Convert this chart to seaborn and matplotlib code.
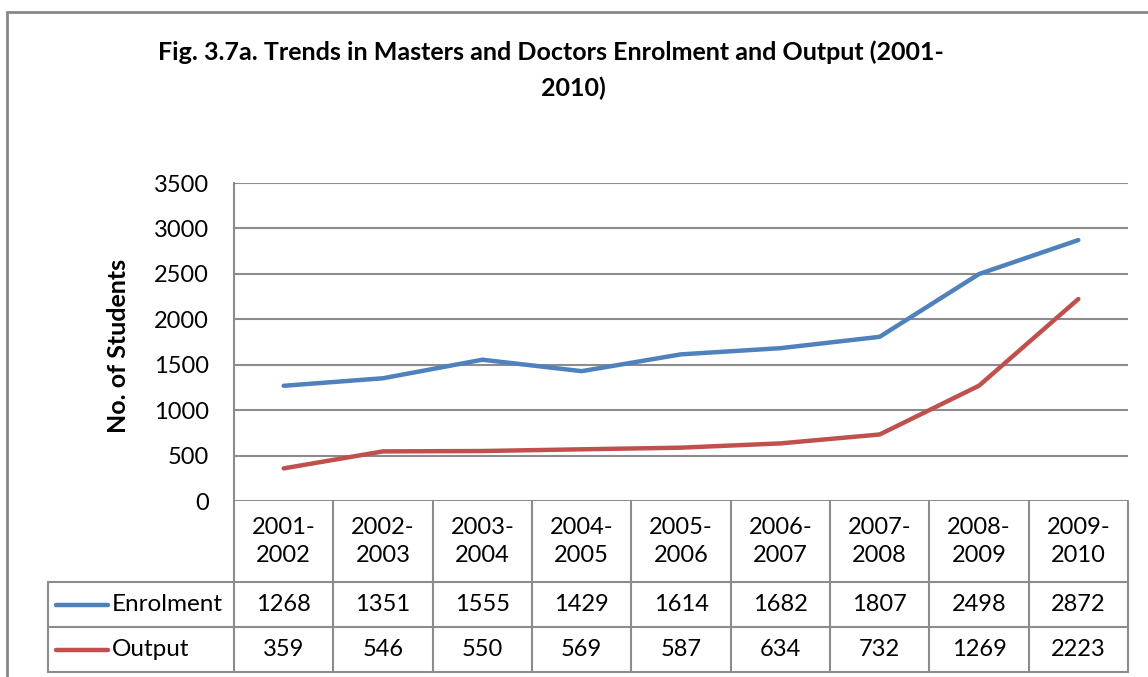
import matplotlib
matplotlib.use("Agg")
import matplotlib.pyplot as plt
import matplotlib.transforms as mtransforms
from matplotlib.lines import Line2D
from matplotlib.patches import Rectangle
import seaborn as sns
import pandas as pd

categories = ["2001-\n2002", "2002-\n2003", "2003-\n2004", "2004-\n2005", "2005-\n2006",
              "2006-\n2007", "2007-\n2008", "2008-\n2009", "2009-\n2010"]
enrolment = [1268, 1351, 1555, 1429, 1614, 1682, 1807, 2498, 2872]
output = [359, 546, 550, 569, 587, 634, 732, 1269, 2223]
series_names = ["Enrolment", "Output"]
y_ticks = [0, 500, 1000, 1500, 2000, 2500, 3000, 3500]

sns.set_theme(style="white")
FONT = ["Lato", "DejaVu Sans"]
plt.rcParams["font.family"] = FONT

W, H = 1148, 677
fig = plt.figure(figsize=(W / 100, H / 100), dpi=100)
fig.patch.set_facecolor("white")

def fx(px):
    return px / W

def fy(py):
    return 1 - py / H

ax_left, ax_right, ax_top, ax_bot = 234, 1128, 183, 501
ax = fig.add_axes([fx(ax_left), fy(ax_bot), fx(ax_right - ax_left), fy(ax_top) - fy(ax_bot)])

df = pd.DataFrame({
    "x": list(range(len(categories))) * 2,
    "value": enrolment + output,
    "series": [series_names[0]] * len(enrolment) + [series_names[1]] * len(output),
})
colors = {"Enrolment": "#4F81BD", "Output": "#C0504D"}
sns.lineplot(data=df, x="x", y="value", hue="series", palette=colors, linewidth=3.2,
             ax=ax, legend=False, solid_capstyle="round")

ax.set_xlim(-0.5, len(categories) - 0.5)
ax.set_ylim(0, 3500)
ax.set_yticks(y_ticks)
ax.set_yticklabels([str(t) for t in y_ticks], fontsize=17, color="black")
ax.set_xticks([])
ax.set_xlabel("")
ax.set_ylabel("")
ax.tick_params(axis="y", length=0, pad=18)
grid_c = "#8C8C8C"
ax.yaxis.grid(True, color=grid_c, linewidth=1.5)
for s in ["top", "right", "bottom"]:
    ax.spines[s].set_visible(False)
ax.spines["left"].set_color(grid_c)
ax.spines["left"].set_linewidth(1.5)

# data table below the axes
trans = mtransforms.blended_transform_factory(ax.transData, fig.transFigure)
row_hdr_bot, row1_bot, row2_bot = 582, 627, 672
leg_left = 48
n = len(categories)
lw = 1.5
for i in range(n + 1):
    fig.add_artist(Line2D([i - 0.5, i - 0.5], [fy(ax_bot), fy(row2_bot)], transform=trans,
                          color=grid_c, linewidth=lw))
for yy in [row_hdr_bot, row1_bot, row2_bot]:
    fig.add_artist(Line2D([fx(leg_left), fx(ax_right)], [fy(yy), fy(yy)],
                          transform=fig.transFigure, color=grid_c, linewidth=lw))
fig.add_artist(Line2D([fx(leg_left), fx(leg_left)], [fy(row_hdr_bot), fy(row2_bot)],
                      transform=fig.transFigure, color=grid_c, linewidth=lw))

tfs = 17
for i, c in enumerate(categories):
    fig.text(i, fy((ax_bot + row_hdr_bot) / 2), c, transform=trans, ha="center", va="center",
             fontsize=tfs, linespacing=1.4, color="black")
    fig.text(i, fy((row_hdr_bot + row1_bot) / 2), str(enrolment[i]), transform=trans,
             ha="center", va="center", fontsize=tfs, color="black")
    fig.text(i, fy((row1_bot + row2_bot) / 2), str(output[i]), transform=trans,
             ha="center", va="center", fontsize=tfs, color="black")

for name, (ytop, ybot) in zip(series_names, [(row_hdr_bot, row1_bot), (row1_bot, row2_bot)]):
    yc = fy((ytop + ybot) / 2)
    fig.add_artist(Line2D([fx(56), fx(108)], [yc, yc], transform=fig.transFigure,
                          color=colors[name], linewidth=3.2, solid_capstyle="round"))
    fig.text(fx(112), yc, name, ha="left", va="center", fontsize=17.5, color="black")

# title and y label
fig.text(fx(551), fy(52), "Fig. 3.7a. Trends in Masters and Doctors Enrolment and Output (2001-",
         ha="center", va="center", fontsize=18, fontweight="bold", color="black")
fig.text(fx(573), fy(88), "2010)", ha="center", va="center", fontsize=18,
         fontweight="bold", color="black")
fig.text(fx(119), fy(346), "No. of Students", rotation=90, ha="center", va="center",
         fontsize=18, fontweight="bold", color="black")

# outer chart border
fig.add_artist(Rectangle((fx(7), fy(H + 20)), fx(W + 20), fy(12) - fy(H + 20),
                         transform=fig.transFigure, fill=False, edgecolor="#888888",
                         linewidth=2))

fig.savefig("out.png", dpi=100, facecolor="white")
